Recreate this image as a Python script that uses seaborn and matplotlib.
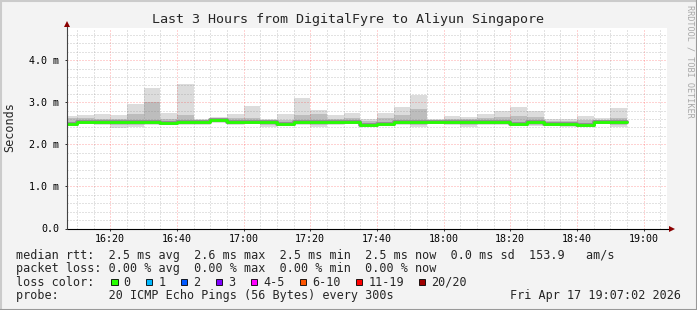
import numpy as np
import pandas as pd
import matplotlib
matplotlib.use("Agg")
import matplotlib.pyplot as plt
import matplotlib.dates as mdates
from matplotlib.patches import Rectangle
from matplotlib.lines import Line2D
import seaborn as sns

# ---------------- data (ms) ----------------
bin_start = pd.date_range("2026-04-17 16:05", periods=34, freq="5min")
rtt_max = [2.67, 2.69, 2.71, 2.69, 2.96, 3.34, 2.75, 3.44, 2.60, 2.65,
           2.73, 2.91, 2.60, 2.73, 3.10, 2.82, 2.69, 2.75, 2.61, 2.75,
           2.89, 3.18, 2.60, 2.68, 2.65, 2.73, 2.80, 2.89, 2.79, 2.60,
           2.60, 2.68, 2.63, 2.86]
rtt_upper = [2.62, 2.63, 2.60, 2.60, 2.72, 3.00, 2.60, 2.69, 2.57, 2.60,
             2.62, 2.62, 2.57, 2.58, 2.70, 2.72, 2.60, 2.62, 2.55, 2.62,
             2.70, 2.84, 2.56, 2.60, 2.60, 2.62, 2.66, 2.68, 2.64, 2.55,
             2.55, 2.58, 2.56, 2.62]
rtt_median = [2.48, 2.54, 2.53, 2.54, 2.52, 2.54, 2.51, 2.52, 2.53, 2.58,
              2.52, 2.54, 2.54, 2.49, 2.52, 2.52, 2.52, 2.54, 2.47, 2.49,
              2.52, 2.54, 2.52, 2.54, 2.52, 2.53, 2.52, 2.49, 2.52, 2.49,
              2.49, 2.47, 2.52, 2.52]
rtt_lower = [2.46, 2.51, 2.50, 2.46, 2.47, 2.50, 2.48, 2.49, 2.49, 2.53,
             2.49, 2.51, 2.47, 2.47, 2.49, 2.46, 2.49, 2.51, 2.45, 2.47,
             2.49, 2.47, 2.50, 2.50, 2.46, 2.49, 2.49, 2.47, 2.46, 2.46,
             2.45, 2.45, 2.50, 2.45]
rtt_min = [2.45, 2.49, 2.47, 2.39, 2.42, 2.47, 2.45, 2.47, 2.46, 2.50,
           2.47, 2.49, 2.42, 2.45, 2.47, 2.42, 2.47, 2.49, 2.43, 2.45,
           2.47, 2.40, 2.48, 2.47, 2.42, 2.47, 2.47, 2.45, 2.43, 2.44,
           2.40, 2.43, 2.49, 2.41]

loss_labels = ["0", "1", "2", "3", "4-5", "6-10", "11-19", "20/20"]
loss_colors = ["#26ff00", "#00b8ff", "#0059ff", "#7e00ff", "#ff00ff",
               "#ff5500", "#ff0000", "#a00000"]

title = "Last 3 Hours from DigitalFyre to Aliyun Singapore"
line_rtt = "median rtt:  2.5 ms avg  2.6 ms max  2.5 ms min  2.5 ms now  0.0 ms sd  153.9   am/s"
line_loss = "packet loss: 0.00 % avg  0.00 % max  0.00 % min  0.00 % now"
line_probe = "probe:       20 ICMP Echo Pings (56 Bytes) every 300s"
stamp = "Fri Apr 17 19:07:02 2026"
t_start = pd.Timestamp("2026-04-17 16:07:02")
t_end = pd.Timestamp("2026-04-17 19:07:02")

# ---------------- figure ----------------
sns.set_theme(style="white")
plt.rcParams["font.family"] = ["DejaVu Sans Mono"]

W, H = 697, 310
fig = plt.figure(figsize=(W / 100, H / 100), dpi=100, facecolor="#f3f3f3")
fx = lambda x: x / W
fy = lambda y: 1 - y / H

ax = fig.add_axes([fx(67), fy(228.5), 600 / W, 200.5 / H])
ax.set_facecolor("white")

edges = bin_start.append(bin_start[-1:] + pd.Timedelta("5min"))
ext = lambda a: list(a) + [a[-1]]
df = pd.DataFrame({"time": edges, "max": ext(rtt_max), "upper": ext(rtt_upper),
                   "median": ext(rtt_median), "lower": ext(rtt_lower),
                   "min": ext(rtt_min)})

ax.fill_between(df["time"], df["min"], df["max"], step="post",
                color="#dcdcdc", lw=0, zorder=1)
ax.fill_between(df["time"], df["lower"], df["upper"], step="post",
                color="#bdbdbd", lw=0, zorder=1.2)
sns.lineplot(data=df, x="time", y="median", drawstyle="steps-post",
             color="#909090", lw=2.8, ax=ax, zorder=3)
sns.lineplot(data=df, x="time", y="median", drawstyle="steps-post",
             color="#26ff00", lw=2.0, ax=ax, zorder=3.1)

ax.set_xlim(t_start, t_end)
ax.set_ylim(0, 200 / 42)
ax.set_xlabel("")
ax.set_ylabel("")

ax.xaxis.set_major_locator(mdates.MinuteLocator(byminute=[0, 20, 40]))
ax.xaxis.set_major_formatter(mdates.DateFormatter("%H:%M"))
ax.xaxis.set_minor_locator(mdates.MinuteLocator(byminute=range(0, 60, 5)))
ax.set_yticks([0, 1, 2, 3, 4])
ax.set_yticks(np.arange(0, 4.8, 0.2), minor=True)
ax.set_yticklabels(["0.0", "1.0 m", "2.0 m", "3.0 m", "4.0 m"])

ax.set_axisbelow(False)
ax.grid(which="minor", color="#808080", alpha=0.45, ls=(0, (1, 2)), lw=0.72)
ax.grid(which="major", color="#ff0000", alpha=0.35, ls=(0, (1, 2)), lw=0.72)

ax.tick_params(axis="both", which="both", direction="out", length=1.5,
               width=0.72, color="#333333", labelsize=7.2, labelcolor="black")
ax.tick_params(axis="y", which="both", pad=4.2)
ax.tick_params(axis="x", which="both", pad=2.2)
ax.tick_params(bottom=True, left=True)
for s in ["top", "right", "left", "bottom"]:
    ax.spines[s].set_visible(False)

# axes with arrows
ax.add_line(Line2D([0, 1 + 5 / 600], [0, 0], transform=ax.transAxes,
                   color="black", lw=0.8, clip_on=False, zorder=5))
ax.add_line(Line2D([0, 0], [0, 1 + 4 / 200], transform=ax.transAxes,
                   color="#444444", lw=0.8, clip_on=False, zorder=5))
ax.plot([1 + 5 / 600], [0], marker=">", ms=4.5, color="#8b0000",
        transform=ax.transAxes, clip_on=False, zorder=6, mew=0)
ax.plot([0], [1 + 4 / 200], marker="^", ms=4.5, color="#8b0000",
        transform=ax.transAxes, clip_on=False, zorder=6, mew=0)

# texts
fig.text(fx(348), fy(19), title, ha="center", va="center", fontsize=9.6)
fig.text(fx(10), fy(127), "Seconds", rotation=90, ha="center", va="center",
         fontsize=8.5)
fig.text(fx(690), fy(5), "RRDTOOL / TOBI OETIKER", rotation=270,
         ha="center", va="top", fontsize=6.1, color="#a8a8a8")

fs = 8.5
cw = 7.08
fig.text(fx(16), fy(255), line_rtt, ha="left", va="center", fontsize=fs)
fig.text(fx(16), fy(268.5), line_loss, ha="left", va="center", fontsize=fs)
fig.text(fx(16), fy(282), "loss color:", ha="left", va="center", fontsize=fs)
fig.text(fx(16), fy(296), line_probe, ha="left", va="center", fontsize=fs)
fig.text(fx(681), fy(296), stamp, ha="right", va="center", fontsize=fs)

x = 111.0
for lab, col in zip(loss_labels, loss_colors):
    fig.patches.append(Rectangle((fx(x), fy(285)), 6.5 / W, 6.5 / H,
                                 transform=fig.transFigure, facecolor=col,
                                 edgecolor="black", lw=0.6))
    tx = x + 12.5
    fig.text(fx(tx), fy(282), lab, ha="left", va="center", fontsize=fs)
    x = tx + len(lab) * cw + 15.3

# frame shading
fig.add_artist(Line2D([0, 1], [1 - 0.5 / H] * 2, transform=fig.transFigure,
                      color="#cbcbcb", lw=1.5))
fig.add_artist(Line2D([0.5 / W] * 2, [0, 1], transform=fig.transFigure,
                      color="#cbcbcb", lw=1.5))
fig.add_artist(Line2D([0, 1], [0.5 / H] * 2, transform=fig.transFigure,
                      color="#999999", lw=1.5))
fig.add_artist(Line2D([1 - 0.5 / W] * 2, [0, 1], transform=fig.transFigure,
                      color="#999999", lw=1.5))

fig.savefig("out.png", dpi=100, facecolor=fig.get_facecolor())
